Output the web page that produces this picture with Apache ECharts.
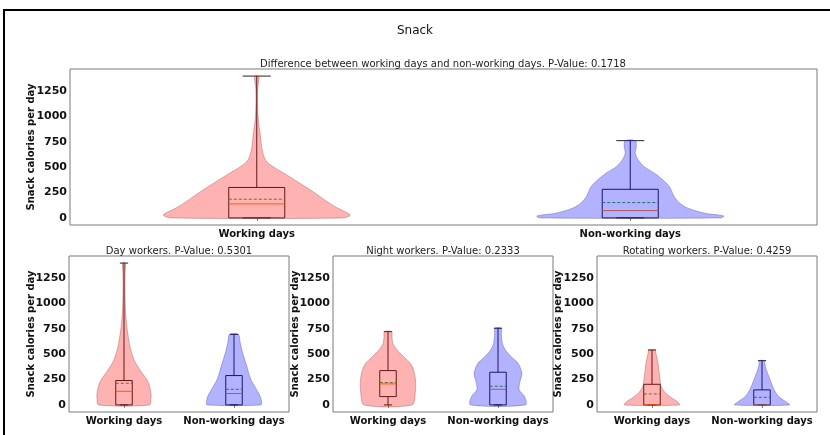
<!DOCTYPE html>
<html>
<head>
<meta charset="utf-8">
<title>Snack</title>
<script src="https://cdn.jsdelivr.net/npm/echarts@6/dist/echarts.min.js"></script>
<style>
  html, body { margin: 0; padding: 0; background: #fff; }
  #chart { width: 830px; height: 435px; }
</style>
</head>
<body>
<div id="chart"></div>
<script>
// ---- data -------------------------------------------------------------
const categories = ['Working days', 'Non-working days'];
const yTicks = [0, 250, 500, 750, 1000, 1250];
const yName = 'Snack calories per day';
const mainTitle = 'Snack';
const panelTitles = [
  'Difference between working days and non-working days. P-Value: 0.1718',
  'Day workers. P-Value: 0.5301',
  'Night workers. P-Value: 0.2333',
  'Rotating workers. P-Value: 0.4259'
];

// box statistics per violin: [min, q1, median, mean, q3, max]
const allStats      = [[0, 0, 138, 184, 300, 1397], [0, 0, 72, 151, 282, 761]];
const dayStats      = [[0, 0, 134, 213, 240, 1397], [0, 0, 112, 154, 289, 695]];
const nightStats    = [[0, 82, 207, 220, 338, 722], [0, 0, 154, 184, 322, 755]];
const rotatingStats = [[0, 0, 0, 108, 203, 541],    [0, 0, 0, 75, 148, 436]];

// kernel density profiles: [calories, density relative to the violin's peak]
const allWorkDensity = [[0,0.93],[30,1.0],[100,0.86],[170,0.74],[260,0.6],[360,0.43],[430,0.31],[490,0.2],[550,0.11],[610,0.075],[700,0.052],[820,0.038],[920,0.022],[1080,0.01],[1280,0.01],[1370,0.025],[1397,0.02]];
const allOffDensity  = [[0,0.97],[20,1.0],[46,0.8],[95,0.62],[145,0.53],[210,0.47],[308,0.42],[374,0.35],[440,0.26],[505,0.15],[571,0.086],[637,0.054],[702,0.065],[761,0.055]];
const dayWorkDensity = [[0,0.93],[60,0.98],[120,0.98],[230,0.87],[330,0.62],[430,0.39],[560,0.23],[690,0.145],[820,0.084],[985,0.047],[1150,0.036],[1300,0.04],[1397,0.05]];
const dayOffDensity  = [[0,0.98],[35,1.0],[100,0.93],[165,0.79],[260,0.6],[395,0.45],[525,0.3],[620,0.22],[695,0.16]];
const nightWorkDensity = [[0,0.87],[115,0.99],[245,1.0],[345,0.93],[410,0.81],[475,0.57],[540,0.33],[605,0.18],[670,0.145],[722,0.13]];
const nightOffDensity  = [[0,1.0],[80,0.97],[150,0.77],[230,0.8],[310,0.87],[410,0.73],[475,0.48],[540,0.27],[605,0.16],[705,0.12],[755,0.12]];
const rotWorkDensity = [[0,1.0],[33,0.92],[66,0.73],[115,0.5],[180,0.34],[280,0.28],[345,0.25],[410,0.22],[475,0.17],[525,0.13],[541,0.12]];
const rotOffDensity  = [[0,1.0],[33,0.86],[80,0.62],[150,0.44],[215,0.34],[280,0.25],[345,0.16],[410,0.1],[436,0.09]];

// ---- layout -----------------------------------------------------------
const panels = [
  { stats: allStats,      density: [allWorkDensity, allOffDensity],     grid: { left: 70,  top: 69,  width: 747, height: 156 }, titleX: 443, titleY: 59,  nameGap: 34 },
  { stats: dayStats,      density: [dayWorkDensity, dayOffDensity],     grid: { left: 69,  top: 256, width: 220, height: 156 }, titleX: 179, titleY: 246, nameGap: 33 },
  { stats: nightStats,    density: [nightWorkDensity, nightOffDensity], grid: { left: 333, top: 256, width: 220, height: 156 }, titleX: 443, titleY: 246, nameGap: 33 },
  { stats: rotatingStats, density: [rotWorkDensity, rotOffDensity],     grid: { left: 597, top: 256, width: 220, height: 156 }, titleX: 707, titleY: 246, nameGap: 34 }
];

const FONT = 'DejaVu Sans';
const fills = ['rgba(255,0,0,0.3)', 'rgba(0,0,255,0.3)'];
const edges = ['rgba(140,60,60,0.35)', 'rgba(60,60,140,0.35)'];
const dataMax = Math.max(...allStats.map(s => s[5]));
const yMin = -0.05 * dataMax;
const yMax = 1.05 * dataMax;

function makeRender(panel) {
  return function (params, api) {
    const idx = api.value(0);
    const st = panel.stats[idx];
    const dens = panel.density[idx];
    const cx = api.coord([idx, 0])[0];
    const band = api.size([1, 0])[0];
    const y = v => api.coord([idx, v])[1];
    const vHalf = 0.25 * band;
    const bHalf = 0.075 * band;
    const cHalf = 0.0375 * band;
    const [mn, q1, med, mean, q3, mx] = st;

    const right = dens.map(([v, d]) => [cx + d * vHalf, y(v)]);
    const left = dens.slice().reverse().map(([v, d]) => [cx - d * vHalf, y(v)]);
    const dark = '#222';
    const line = (x1, y1, x2, y2, style) => ({
      type: 'line', shape: { x1, y1, x2, y2 },
      style: Object.assign({ stroke: dark, lineWidth: 1 }, style || {})
    });

    return {
      type: 'group',
      children: [
        line(cx, y(q3), cx, y(mx)),
        line(cx, y(q1), cx, y(mn)),
        line(cx - cHalf, y(mx), cx + cHalf, y(mx)),
        line(cx - cHalf, y(mn), cx + cHalf, y(mn)),
        {
          type: 'rect',
          shape: { x: cx - bHalf, y: y(q3), width: 2 * bHalf, height: y(q1) - y(q3) },
          style: { fill: null, stroke: dark, lineWidth: 1 }
        },
        line(cx - bHalf, y(med), cx + bHalf, y(med), { stroke: '#ff7f0e' }),
        line(cx - bHalf, y(mean), cx + bHalf, y(mean), { stroke: '#2ca02c', lineDash: [3, 2] }),
        {
          type: 'polygon',
          shape: { points: right.concat(left), smooth: 0.3 },
          style: { fill: fills[idx], stroke: edges[idx], lineWidth: 1 }
        }
      ]
    };
  };
}

const option = {
  animation: false,
  backgroundColor: '#fff',
  textStyle: { fontFamily: FONT },
  title: [
    { text: mainTitle, left: 415, top: 25, textAlign: 'center', padding: 0,
      textStyle: { fontFamily: FONT, fontSize: 12, fontWeight: 'normal', color: '#111' } }
  ].concat(panels.map((p, i) => ({
    text: panelTitles[i], left: p.titleX, top: p.titleY, textAlign: 'center', padding: 0,
    textStyle: { fontFamily: FONT, fontSize: 10, fontWeight: 'normal', color: '#222' }
  }))),
  grid: panels.map(p => Object.assign({
    show: true, borderColor: '#7a7a7a', borderWidth: 1, backgroundColor: 'transparent'
  }, p.grid)),
  xAxis: panels.map((p, i) => ({
    type: 'category', gridIndex: i, data: categories,
    axisLine: { show: false },
    axisTick: { show: true, alignWithLabel: true, length: 3, lineStyle: { color: '#7a7a7a' } },
    axisLabel: { interval: 0, margin: 4, fontFamily: FONT, fontSize: 10, fontWeight: 'bold', color: '#111' },
    splitLine: { show: false }
  })),
  yAxis: panels.map((p, i) => ({
    type: 'value', gridIndex: i, min: yMin, max: yMax,
    name: yName, nameLocation: 'middle', nameRotate: 90, nameGap: p.nameGap,
    nameMoveOverlap: false,
    nameTextStyle: { fontFamily: FONT, fontSize: 10, fontWeight: 'bold', color: '#111' },
    axisLine: { show: false },
    axisTick: { show: false },
    axisLabel: {
      customValues: yTicks, margin: 3, formatter: v => String(Math.round(v)),
      fontFamily: FONT, fontSize: 11, fontWeight: 'bold', color: '#111'
    },
    splitLine: { show: false }
  })),
  series: panels.map((p, i) => ({
    type: 'custom', xAxisIndex: i, yAxisIndex: i,
    encode: { x: 0, y: 1 },
    data: categories.map((c, k) => [k, p.stats[k][5]]),
    renderItem: makeRender(p),
    silent: true
  })),
  graphic: [
    { type: 'rect', shape: { x: 4, y: 10, width: 900, height: 500 },
      style: { fill: null, stroke: '#000', lineWidth: 2 }, silent: true }
  ]
};

const chart = echarts.init(document.getElementById('chart'), null, { renderer: 'canvas' });
chart.setOption(option);
</script>
</body>
</html>
